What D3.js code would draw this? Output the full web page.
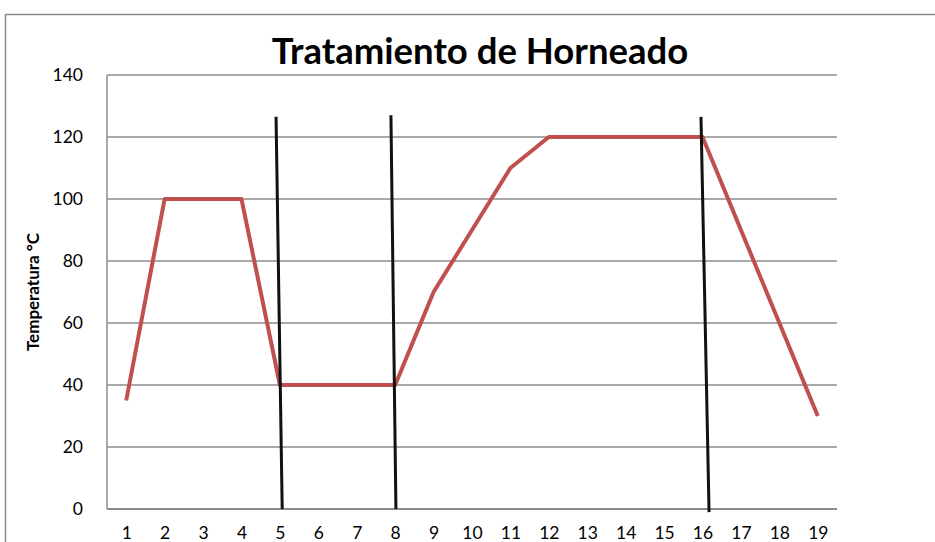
<!DOCTYPE html>
<html>
<head>
<meta charset="utf-8">
<script src="https://cdn.jsdelivr.net/npm/d3@7"></script>
<style>
  body { margin: 0; background: #fff; }
  svg { display: block; }
</style>
</head>
<body>
<script>
let w = 935;
let h = 542;

// chart values
let steps = [1, 2, 3, 4, 5, 6, 7, 8, 9, 10, 11, 12, 13, 14, 15, 16, 17, 18, 19];
let temps = [35, 100, 100, 100, 40, 40, 40, 40, 70, 90, 110, 120, 120, 120, 120, 120, 90, 60, 30];
let yTicks = [0, 20, 40, 60, 80, 100, 120, 140];
// hand drawn separators, in step / degree units (slightly slanted)
let sepTop = [[4.90, 126.5], [7.89, 127], [15.96, 126.5]];
let sepBottom = [[5.06, 0], [8.02, 0], [16.17, -1]];

let plotLeft = 107;
let plotRight = 837;
let plotTop = 75;
let plotBottom = 509;

let svg = d3.select("body").append("svg").attr("width", w).attr("height", h);

// outer chart border
svg.append("rect")
  .attr("x", 5.5)
  .attr("y", 14.5)
  .attr("width", w + 10)
  .attr("height", h + 10)
  .attr("fill", "none")
  .attr("stroke", "#8a8a8a")
  .attr("stroke-width", 1.5);

let xScale = d3.scaleLinear()
  .domain([0.5, 19.5])
  .range([plotLeft, plotRight]);

let yScale = d3.scaleLinear()
  .domain([0, 140])
  .range([plotBottom, plotTop]);

// gridlines
svg.selectAll("line.grid")
  .data(yTicks)
  .enter()
  .append("line")
  .attr("class", "grid")
  .attr("x1", plotLeft)
  .attr("x2", plotRight)
  .attr("y1", (d) => yScale(d))
  .attr("y2", (d) => yScale(d))
  .attr("stroke", "#8c8c8c")
  .attr("stroke-width", (d) => d === 0 ? 2 : 1.5);

// left axis line
svg.append("line")
  .attr("x1", plotLeft)
  .attr("x2", plotLeft)
  .attr("y1", yScale(140))
  .attr("y2", yScale(0))
  .attr("stroke", "#8c8c8c")
  .attr("stroke-width", 1.5);

const yAxis = d3.axisLeft(yScale)
  .tickValues(yTicks)
  .tickSize(0)
  .tickPadding(24);

svg.append("g")
  .attr("class", "y axis")
  .attr("transform", "translate(" + plotLeft + ",0)")
  .call(yAxis)
  .call((g) => g.select(".domain").remove())
  .selectAll("text")
  .attr("font-family", "Lato, sans-serif")
  .attr("font-size", "17.5px")
  .attr("fill", "#000");

const xAxis = d3.axisBottom(xScale)
  .tickValues(steps)
  .tickFormat(d3.format("d"))
  .tickSize(0)
  .tickPadding(18);

svg.append("g")
  .attr("class", "x axis")
  .attr("transform", "translate(0," + plotBottom + ")")
  .call(xAxis)
  .call((g) => g.select(".domain").remove())
  .selectAll("text")
  .attr("font-family", "Lato, sans-serif")
  .attr("font-size", "17.5px")
  .attr("fill", "#000");

// temperature line
let line = d3.line()
  .x((d, i) => xScale(steps[i]))
  .y((d) => yScale(d));

svg.append("path")
  .datum(temps)
  .attr("d", line)
  .attr("fill", "none")
  .attr("stroke", "#c0504d")
  .attr("stroke-width", 4)
  .attr("stroke-linejoin", "round");

// separator lines
svg.selectAll("line.sep")
  .data(sepTop)
  .enter()
  .append("line")
  .attr("class", "sep")
  .attr("x1", (d) => xScale(d[0]))
  .attr("y1", (d) => yScale(d[1]))
  .attr("x2", (d, i) => xScale(sepBottom[i][0]))
  .attr("y2", (d, i) => yScale(sepBottom[i][1]))
  .attr("stroke", "#111")
  .attr("stroke-width", 3);

// title
svg.append("text")
  .attr("x", 480)
  .attr("y", 64)
  .attr("text-anchor", "middle")
  .attr("font-family", "Lato, sans-serif")
  .attr("font-weight", "bold")
  .attr("font-size", "36.5px")
  .text("Tratamiento de Horneado");

// y axis title
svg.append("text")
  .attr("text-anchor", "middle")
  .attr("font-family", "Lato, sans-serif")
  .attr("font-weight", "bold")
  .attr("font-size", "17px")
  .attr("transform", "translate(39,292) rotate(-90)")
  .text("Temperatura °C");
</script>
</body>
</html>
